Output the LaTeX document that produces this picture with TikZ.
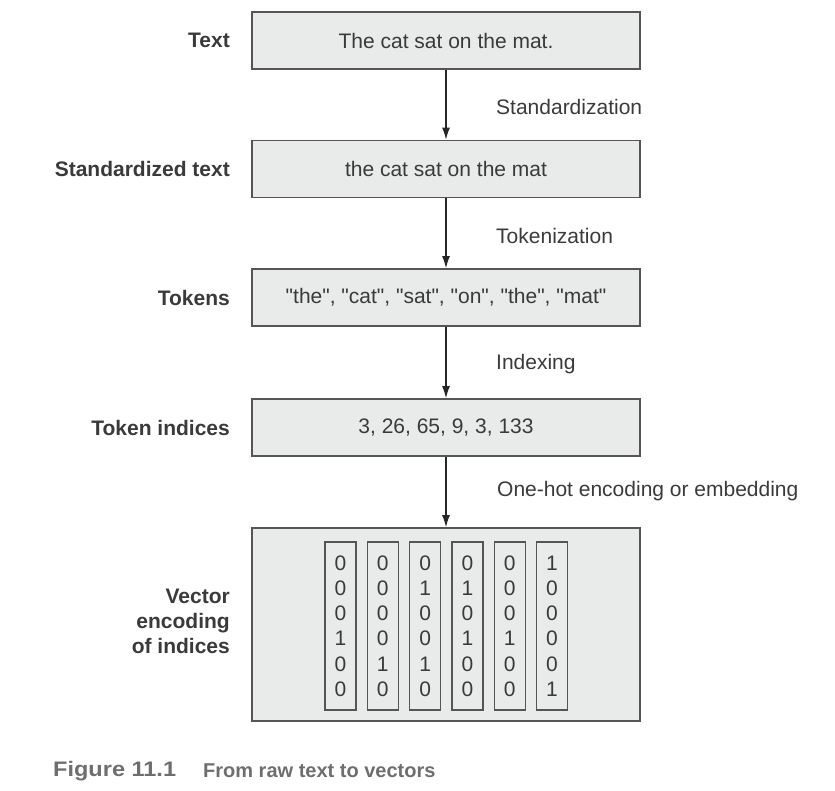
\documentclass[tikz,border=0pt]{standalone}
\usepackage{fontspec}
\setmainfont{Liberation Sans}[Ligatures=TeXOff]
\usetikzlibrary{arrows.meta}
\definecolor{boxfill}{HTML}{E9EAEA}
\definecolor{boxline}{HTML}{555555}
\definecolor{txt}{HTML}{3A3A3A}
\definecolor{captxt}{HTML}{6E6E6E}
\tikzset{
  stage/.style={draw=boxline, line width=1.8pt, fill=boxfill, minimum width=388pt, minimum height=57pt, inner sep=0pt, text=txt, font=\fontsize{21}{25}\selectfont},
  bigstage/.style={draw=boxline, line width=1.8pt, fill=boxfill, minimum width=388pt, minimum height=193pt, inner sep=0pt},
  vec/.style={draw=boxline, line width=1.3pt, minimum width=31pt, minimum height=168pt, inner sep=0pt, align=center, text=txt, font=\fontsize{21}{25.2}\selectfont},
  side/.style={anchor=east, text=txt, font=\bfseries\fontsize{21}{25}\selectfont, align=right, inner sep=0pt},
  steplabel/.style={anchor=west, text=txt, font=\fontsize{21}{25}\selectfont, inner sep=0pt},
  arr/.style={draw=black!85, line width=1.2pt, -{Latex[length=12pt,width=8pt]}},
  captext/.style={anchor=west, text=captxt, font=\bfseries\fontsize{21}{25}\selectfont, inner sep=0pt}
}
\begin{document}
\begin{tikzpicture}[x=1pt,y=-1pt]
\useasboundingbox (0,0) rectangle (835,790);
% boxes
\node[stage] (b1) at (446,40.5) {The cat sat on the mat.};
\node[stage] (b2) at (446,169) {the cat sat on the mat};
\node[stage] (b3) at (446,297.5) {"the", "cat", "sat", "on", "the", "mat"};
\node[stage] (b4) at (446,427.5) {3, 26, 65, 9, 3, 133};
\node[bigstage] (b5) at (446,624.5) {};
% vectors
\node[vec] (v1) at (340.5,626) {0\\0\\0\\1\\0\\0};
\node[vec] (v2) at (382.8,626) {0\\0\\0\\0\\1\\0};
\node[vec] (v3) at (425.1,626) {0\\1\\0\\0\\1\\0};
\node[vec] (v4) at (467.4,626) {0\\1\\0\\1\\0\\0};
\node[vec] (v5) at (509.7,626) {0\\0\\0\\1\\0\\0};
\node[vec] (v6) at (552,626) {1\\0\\0\\0\\0\\1};
% side labels
\node[side] (l1) at (230,40.5) {Text};
\node[side] (l2) at (230,169) {Standardized text};
\node[side] (l3) at (230,297.5) {Tokens};
\node[side] (l4) at (230,427.5) {Token indices};
\node[side] (l5) at (230,621) {Vector\\encoding\\of indices};
% arrows
\draw[arr] (b1) -- (b2);
\draw[arr] (b2) -- (b3);
\draw[arr] (b3) -- (b4);
\draw[arr] (b4) -- (b5);
% step labels
\node[steplabel] (s1) at (496,107) {Standardization};
\node[steplabel] (s2) at (496,236) {Tokenization};
\node[steplabel] (s3) at (496,364) {Indexing};
\node[steplabel] (s4) at (497,491) {One-hot encoding or embedding};
% caption
\node[captext, font=\bfseries\fontsize{21}{25}\selectfont\addfontfeature{FakeStretch=1.12}] (c1) at (53,771) {Figure 11.1};
\node[captext, font=\bfseries\fontsize{20}{25}\selectfont] (c2) at (203,771) {From raw text to vectors};
\end{tikzpicture}
\end{document}
